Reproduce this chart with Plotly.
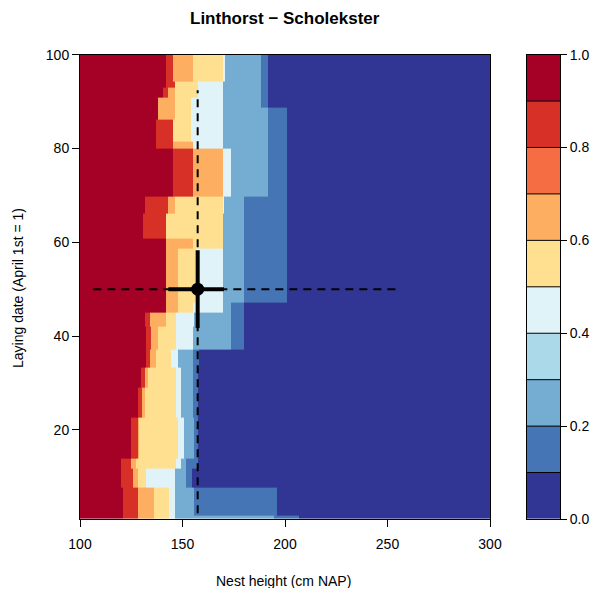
import numpy as np
import plotly.graph_objects as go

# ---------------- data ----------------
levels = [0.0, 0.1, 0.2, 0.3, 0.4, 0.5, 0.6, 0.7, 0.8, 0.9, 1.0]
level_colors = ["#313695", "#4575B4", "#74ADD1", "#ABD9E9", "#E0F3F8",
                "#FEE090", "#FDAE61", "#F46D43", "#D73027", "#A50026"]

# horizontal bands of laying date (top, bottom) and, per band, (x_end, probability) segments
band_top = [100, 94.15, 92.87, 90.74, 88.60, 86.04, 81.5, 80.06, 69.82, 66.19, 60.85,
            58.71, 47.19, 45.06, 42.07, 37.16, 33.31, 29.05, 22.64, 13.89, 11.76, 7.70, 1.73]
band_bottom = band_top[1:] + [1.0]
band_segments = [
    [(142.0, .95), (145.3, .85), (155.0, .65), (169.6, .55), (170.6, .45), (188.2, .25), (191.5, .15), (300, .05)],
    [(142.0, .95), (146.1, .85), (157.4, .55), (169.6, .45), (188.2, .25), (191.5, .15), (300, .05)],
    [(140.4, .95), (142.8, .85), (146.1, .65), (157.4, .55), (169.6, .45), (188.2, .25), (191.5, .15), (300, .05)],
    [(138.0, .95), (146.1, .65), (154.2, .55), (169.6, .45), (188.2, .25), (191.5, .15), (300, .05)],
    [(138.0, .95), (146.1, .65), (154.2, .55), (169.6, .45), (191.5, .25), (201.2, .15), (300, .05)],
    [(137.1, .95), (145.3, .85), (154.2, .55), (169.6, .45), (191.5, .25), (201.2, .15), (300, .05)],
    [(137.1, .95), (145.3, .85), (155.0, .65), (169.6, .45), (191.5, .25), (201.2, .15), (300, .05)],
    [(145.3, .95), (155.0, .85), (169.6, .65), (173.6, .45), (191.5, .25), (201.2, .15), (300, .05)],
    [(131.5, .95), (142.8, .85), (146.1, .65), (169.6, .55), (170.4, .45), (180.1, .25), (201.2, .15), (300, .05)],
    [(130.7, .95), (142.0, .85), (169.6, .55), (180.1, .25), (201.2, .15), (300, .05)],
    [(142.0, .95), (155.0, .65), (169.6, .55), (180.1, .25), (201.2, .15), (300, .05)],
    [(142.0, .95), (147.7, .65), (156.5, .55), (169.6, .45), (180.1, .25), (201.2, .15), (300, .05)],
    [(142.0, .95), (147.7, .65), (155.0, .55), (169.6, .45), (173.6, .25), (180.1, .15), (300, .05)],
    [(131.5, .95), (133.9, .85), (142.0, .65), (146.9, .55), (155.8, .45), (173.6, .25), (180.1, .15), (300, .05)],
    [(132.3, .95), (134.7, .85), (138.0, .65), (146.9, .55), (155.0, .45), (173.6, .25), (180.1, .15), (300, .05)],
    [(132.3, .95), (133.9, .85), (137.1, .65), (144.4, .55), (147.7, .45), (155.0, .25), (158.2, .15), (300, .05)],
    [(129.8, .95), (131.5, .85), (133.1, .65), (146.9, .55), (149.3, .45), (155.0, .25), (157.4, .15), (300, .05)],
    [(128.2, .95), (130.0, .85), (131.5, .65), (146.9, .55), (149.3, .45), (155.0, .25), (157.4, .15), (300, .05)],
    [(125.0, .95), (128.2, .85), (129.0, .65), (147.7, .55), (150.9, .45), (155.8, .25), (157.4, .15), (300, .05)],
    [(120.1, .95), (125.0, .85), (127.4, .65), (146.9, .55), (149.3, .45), (151.7, .25), (157.4, .15), (300, .05)],
    [(120.1, .95), (125.8, .85), (128.2, .65), (132.3, .55), (146.1, .45), (151.7, .25), (154.7, .15), (300, .05)],
    [(120.9, .95), (128.2, .85), (136.3, .65), (143.6, .55), (146.1, .45), (155.5, .25), (196.3, .15), (300, .05)],
    [(120.9, .95), (128.2, .85), (136.3, .65), (143.6, .55), (146.1, .45), (194.7, .25), (206.9, .15), (300, .05)],
]

# estimate with uncertainty
est_x, est_y = 157.4, 50.0
ci_x_wide = [106.5, 256.0]
ci_x_narrow = [143.1, 170.2]
ci_y_wide = [2.2, 92.4]
ci_y_narrow = [41.7, 58.3]

x_ticks = [100, 150, 200, 250, 300]
y_ticks = [20, 40, 60, 80, 100]
cb_ticks = [0.0, 0.2, 0.4, 0.6, 0.8, 1.0]

# ---------------- grid from bands ----------------
x_edges = sorted(set([100.0] + [s[0] for segs in band_segments for s in segs]))
x_mid = [(a + b) / 2 for a, b in zip(x_edges[:-1], x_edges[1:])]
order = np.argsort(band_bottom)
y_edges = [band_bottom[i] for i in order] + [band_top[order[-1]]]
z = []
for i in order:
    segs = band_segments[i]
    row = []
    for xm in x_mid:
        for xe, v in segs:
            if xm <= xe:
                row.append(v)
                break
    z.append(row)

colorscale = []
for i, c in enumerate(level_colors):
    colorscale.append([levels[i], c])
    colorscale.append([levels[i + 1], c])

FONT = "Liberation Sans, Arial, sans-serif"
TICK_SIZE = 14
fig = go.Figure()
fig.add_trace(go.Heatmap(x=x_edges, y=y_edges, z=z, zmin=0, zmax=1,
                         colorscale=colorscale, showscale=False, hoverinfo="skip"))

dash = "8px,6px"
fig.add_trace(go.Scatter(x=ci_x_wide, y=[est_y, est_y], mode="lines",
                         line=dict(color="black", width=2, dash=dash), showlegend=False))
fig.add_trace(go.Scatter(x=[est_x, est_x], y=ci_y_wide, mode="lines",
                         line=dict(color="black", width=2, dash=dash), showlegend=False))
fig.add_trace(go.Scatter(x=ci_x_narrow, y=[est_y, est_y], mode="lines",
                         line=dict(color="black", width=4), showlegend=False))
fig.add_trace(go.Scatter(x=[est_x, est_x], y=ci_y_narrow, mode="lines",
                         line=dict(color="black", width=4), showlegend=False))
fig.add_trace(go.Scatter(x=[est_x], y=[est_y], mode="markers",
                         marker=dict(color="black", size=13), showlegend=False))

# colour key
mids = [(a + b) / 2 for a, b in zip(levels[:-1], levels[1:])]
fig.add_trace(go.Heatmap(x=[0, 1], y=levels, z=[[m] for m in mids], zmin=0, zmax=1,
                         colorscale=colorscale, showscale=False, hoverinfo="skip",
                         xaxis="x2", yaxis="y2"))
shapes = []
for lv in levels[1:-1]:
    shapes.append(dict(type="line", xref="x2", yref="y2", x0=0, x1=1, y0=lv, y1=lv,
                       line=dict(color="black", width=1)))

# page body has an 8px margin, so the figure is sized to fit inside the window
W, H = 590, 580
OFF = 8
def fx(px):
    return (px - OFF) / W
def fy(py):
    return 1 - (py - OFF) / H

ydom = [fy(519), fy(54.6)]
axcommon = dict(showline=True, mirror=True, linecolor="black", linewidth=1,
                showgrid=False, zeroline=False, ticks="outside", ticklen=7,
                tickcolor="black", automargin=False,
                tickfont=dict(family=FONT, size=TICK_SIZE, color="black"))
fig.update_layout(
    width=W, height=H,
    margin=dict(l=0, r=0, t=0, b=0, pad=0, autoexpand=False),
    paper_bgcolor="white", plot_bgcolor="white",
    font=dict(family=FONT, size=TICK_SIZE, color="black"),
    shapes=shapes,
    xaxis=dict(domain=[fx(80), fx(490)], range=[100, 300], tickvals=x_ticks,
               ticklabelstandoff=5, **axcommon),
    yaxis=dict(domain=ydom, range=[1, 100], tickvals=y_ticks, **axcommon),
    xaxis2=dict(domain=[fx(527), fx(560)], range=[0, 1], showline=True, mirror=True,
                linecolor="black", showticklabels=False, ticks="", showgrid=False,
                zeroline=False, anchor="y2", automargin=False),
    yaxis2=dict(domain=ydom, range=[0, 1], side="right", anchor="x2", showline=True,
                mirror=True, linecolor="black", showgrid=False, zeroline=False,
                ticks="outside", ticklen=6, tickcolor="black", tickvals=cb_ticks,
                ticktext=["%.1f" % t for t in cb_ticks], automargin=False,
                tickfont=dict(family=FONT, size=TICK_SIZE, color="black")),
    annotations=[
        dict(text="<b>Linthorst − Scholekster</b>", x=fx(285), y=fy(18),
             xref="paper", yref="paper", showarrow=False,
             font=dict(family=FONT, size=17, color="black"), xanchor="center", yanchor="middle"),
        dict(text="Nest height (cm NAP)", x=fx(283), y=fy(581),
             xref="paper", yref="paper", showarrow=False,
             font=dict(family=FONT, size=TICK_SIZE, color="black"), xanchor="center", yanchor="middle"),
        dict(text="Laying date (April 1st = 1)", x=fx(18), y=fy(288),
             xref="paper", yref="paper", showarrow=False, textangle=-90,
             font=dict(family=FONT, size=TICK_SIZE, color="black"), xanchor="center", yanchor="middle"),
    ],
)

fig.write_html("out.html")
